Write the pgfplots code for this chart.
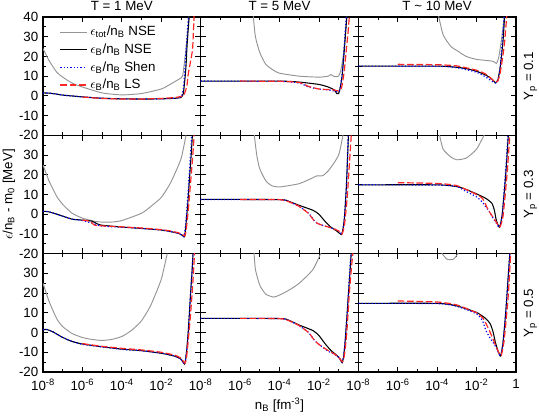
\documentclass[border=0pt]{standalone}
\usepackage{fontspec}
\setmainfont{Liberation Sans}
\usepackage{pgfplots}
\pgfplotsset{compat=1.18}

\pgfplotsset{
  panel/.style={
    scale only axis, width=118.25pt, height=88.75pt, anchor=north west,
    xmin=1e-8, xmax=1, ymin=-20, ymax=40,
    xtick={1e-8,1e-6,1e-4,1e-2,1}, minor xtick={1e-7,1e-5,1e-3,1e-1},
    ytick={-20,-10,0,10,20,30,40}, minor ytick={-15,-5,5,15,25,35},
    tick align=inside, major tick length=4pt, minor tick length=2.5pt,
    tick style={black, line width=0.6pt}, axis line style={line width=0.8pt},
    tick label style={font=\fontsize{10}{12}\selectfont},
    xticklabel style={yshift=-2pt},
    /pgf/number format/assume math mode=true,
    xticklabels={}, yticklabels={},
  },
  ylab/.style={yticklabels={-20,-10,0,10,20,30}},
  ylabtop/.style={yticklabels={-20,-10,0,10,20,30,40}},
  xlab/.style={xticklabels={10\textsuperscript{-8},10\textsuperscript{-6},10\textsuperscript{-4},10\textsuperscript{-2}}},
  xlablast/.style={xticklabels={10\textsuperscript{-8},10\textsuperscript{-6},10\textsuperscript{-4},10\textsuperscript{-2},1}},
  gr/.style={color=black!42, line width=0.7pt, smooth, tension=0.35},
  bk/.style={black, line width=0.8pt, smooth, tension=0.35},
  sh/.style={blue, line width=0.9pt, dash pattern=on 0.9pt off 1.6pt, smooth, tension=0.35},
  ls/.style={red!85, line width=0.9pt, dash pattern=on 5pt off 2pt, smooth, tension=0.35},
}

\begin{document}
\begin{tikzpicture}
\useasboundingbox (-32.25pt,12.75pt) rectangle (372pt,-300pt);

% T = 1 MeV
\begin{semilogxaxis}[panel, ylabtop, at={(0pt,0pt)},
  legend style={at={(0.08,0.97)}, anchor=north west, draw=none, fill=none,
    font=\fontsize{10}{12}\selectfont, row sep=0.5pt},
  legend cell align=left,
  legend image code/.code={\draw[#1] (0cm,0cm) -- (0.7cm,0cm);}]
\addplot[gr] coordinates {(1e-8,24)(2e-8,18)(5e-8,12)(1e-7,9.5)(3e-7,6.5)(1e-6,4.5)(1e-5,1.5)(1e-4,0.5)(1e-3,1.2)(1e-2,3.5)(3e-2,6)(0.08,8.5)(0.12,10)(0.15,17)(0.18,24)(0.22,33)(0.27,42)};
\addplot[bk] coordinates {(1e-8,1.5)(2e-8,1.4)(5e-8,0.9)(1e-7,0.4)(1e-6,-0.5)(1e-5,-1.2)(1e-4,-1.5)(1e-3,-1.6)(1e-2,-1.5)(5e-2,-1.2)(0.1,-0.8)(0.13,1)(0.15,6)(0.18,15)(0.2,24)(0.23,33)(0.27,42)};
\addplot[sh] coordinates {(1e-8,1.5)(2e-8,1.4)(5e-8,0.9)(1e-7,0.4)(1e-6,-0.5)(1e-5,-1.2)(1e-4,-1.5)(1e-3,-1.6)(1e-2,-1.5)(5e-2,-1.1)(0.1,-0.6)(0.13,3)(0.15,10)(0.18,22)(0.22,35)(0.25,42)};
\addplot[ls] coordinates {(1e-6,-0.6)(1e-5,-1.3)(1e-4,-1.6)(1e-3,-1.6)(1e-2,-1.3)(5e-2,-0.8)(0.1,-0.3)(0.14,0.3)(0.2,5)(0.23,10.5)(0.3,17)(0.39,24)(0.47,42)};
\legend{$\epsilon$\textsubscript{tot}/n\textsubscript{B} NSE, $\epsilon$\textsubscript{B}/n\textsubscript{B} NSE, $\epsilon$\textsubscript{B}/n\textsubscript{B} Shen, $\epsilon$\textsubscript{B}/n\textsubscript{B} LS}
\end{semilogxaxis}

\begin{semilogxaxis}[panel, ylab, at={(0pt,-88.75pt)}]
\addplot[gr] coordinates {(1e-8,25)(2e-8,17)(5e-8,9)(1e-7,5)(3e-7,0.5)(1e-6,-2)(2e-6,-2.8)(4e-6,-3.6)(1e-5,-4)(3e-5,-4)(1e-4,-3.2)(1e-3,0.5)(3e-3,4)(1e-2,8.5)(3e-2,16)(0.1,28)(0.18,40)};
\addplot[bk] coordinates {(1e-8,1.5)(2e-8,1.2)(5e-8,0)(1e-7,-1)(3e-7,-2.5)(1e-6,-3)(3e-6,-3.5)(6e-6,-5)(1e-5,-5.6)(1e-4,-6.5)(1e-3,-7.2)(1e-2,-8)(3e-2,-8.8)(0.08,-9.8)(0.12,-10.8)(0.145,-11.5)(0.16,-10)(0.18,-5)(0.22,5)(0.28,20)(0.34,32)(0.39,42)};
\addplot[sh] coordinates {(1e-8,1.5)(2e-8,1.2)(5e-8,0)(1e-7,-1)(3e-7,-2.5)(1e-6,-3.2)(3e-6,-4.5)(1e-5,-6)(1e-4,-6.6)(1e-3,-7.2)(1e-2,-8)(3e-2,-8.8)(0.08,-9.8)(0.12,-10.8)(0.145,-11.3)(0.17,-6)(0.21,5)(0.27,22)(0.36,42)};
\addplot[ls] coordinates {(1e-6,-3)(2.5e-6,-3.6)(4e-6,-5.5)(1e-5,-5.9)(1e-4,-6.4)(1e-3,-7)(1e-2,-7.8)(3e-2,-8.5)(0.08,-9.5)(0.13,-10.5)(0.16,-11)(0.19,-7)(0.24,3)(0.32,18)(0.4,30)(0.48,42)};
\end{semilogxaxis}

\begin{semilogxaxis}[panel, ylab, xlab, at={(0pt,-177.5pt)}]
\addplot[gr] coordinates {(1e-8,25)(2e-8,16)(5e-8,7)(1e-7,3)(3e-7,-0.5)(1e-6,-2.5)(3e-6,-3.5)(1e-5,-4)(3e-5,-3.5)(1e-4,-2)(3e-4,1)(1e-3,6)(3e-3,14)(1e-2,27)(2e-2,40)};
\addplot[bk] coordinates {(1e-8,1.4)(1.5e-8,1.6)(3e-8,0.5)(1e-7,-2.5)(3e-7,-4.5)(1e-6,-5.8)(1e-5,-7.2)(1e-4,-8.4)(1e-3,-9.2)(1e-2,-10.5)(5e-2,-12)(0.1,-13.5)(0.15,-16)(0.17,-14)(0.2,-8)(0.24,2)(0.3,18)(0.36,30)(0.42,42)};
\addplot[sh] coordinates {(1e-8,1.4)(1.5e-8,1.6)(3e-8,0.5)(1e-7,-2.5)(3e-7,-4.5)(1e-6,-6)(1e-5,-7.3)(1e-4,-8.5)(1e-3,-9.2)(1e-2,-10.4)(5e-2,-12)(0.1,-13.5)(0.15,-16)(0.17,-14)(0.2,-8)(0.24,2)(0.3,18)(0.36,30)(0.42,42)};
\addplot[ls] coordinates {(1e-6,-5.6)(1e-5,-7)(1e-4,-8)(1e-3,-8.8)(1e-2,-10)(5e-2,-11.5)(0.1,-13)(0.16,-15.5)(0.19,-13)(0.23,-5)(0.3,8)(0.4,25)(0.5,42)};
\end{semilogxaxis}

% T = 5 MeV
\begin{semilogxaxis}[panel, at={(118.25pt,0pt)}]
\addplot[gr] coordinates {(4.5e-6,42)(6e-6,30)(1e-5,22)(2e-5,16)(5e-5,13)(1e-4,11.5)(1e-3,10)(1e-2,9.5)(3e-2,10)(4e-2,10.8)(6e-2,9.8)(0.1,10)(0.13,13)(0.17,20)(0.22,32)(0.27,42)};
\addplot[bk] coordinates {(1e-8,7.5)(1e-4,7.5)(1e-3,7)(1e-2,5.8)(3e-2,4.5)(6e-2,3)(8e-2,1.2)(0.1,1.2)(0.12,4)(0.15,10)(0.19,22)(0.23,33)(0.27,42)};
\addplot[sh] coordinates {(1e-8,7.5)(1e-4,7.4)(1e-3,6.5)(3e-3,4.5)(1e-2,3.5)(3e-2,3)(6e-2,2.5)(0.1,2)(0.12,4)(0.15,11)(0.19,24)(0.25,42)};
\addplot[ls] coordinates {(1e-6,7.5)(1e-4,7.4)(1e-3,6.8)(3e-3,4.8)(1e-2,3.5)(3e-2,3.2)(6e-2,3)(0.1,2.5)(0.14,4)(0.19,12)(0.25,24)(0.3,32)(0.36,42)};
\end{semilogxaxis}

\begin{semilogxaxis}[panel, at={(118.25pt,-88.75pt)}]
\addplot[gr] coordinates {(5e-6,42)(7e-6,30)(1e-5,23)(2e-5,17)(4e-5,14.5)(1e-4,13.8)(1e-3,15.5)(5e-3,18.5)(8e-3,19.5)(1.5e-2,19.5)(3e-2,22)(0.1,30)(0.18,42)};
\addplot[bk] coordinates {(1e-8,7.5)(1e-4,7.4)(3e-4,6.5)(1e-3,4.5)(5e-3,2)(1e-2,0)(2e-2,-3.5)(4e-2,-6.5)(8e-2,-8.5)(0.14,-10.3)(0.17,-7)(0.2,-1)(0.25,15)(0.32,42)};
\addplot[sh] coordinates {(1e-8,7.5)(1e-4,7.4)(3e-4,6.3)(1e-3,4)(3e-3,0.5)(6e-3,-3.5)(1e-2,-5)(3e-2,-6.5)(6e-2,-7.5)(0.1,-8.5)(0.14,-10.3)(0.17,-7)(0.2,-1)(0.25,15)(0.31,42)};
\addplot[ls] coordinates {(1e-6,7.5)(1e-4,7.4)(3e-4,6.3)(1e-3,4)(3e-3,0.3)(6e-3,-3.5)(1e-2,-5)(3e-2,-6.5)(6e-2,-7.5)(0.1,-8.5)(0.15,-10)(0.2,-5)(0.27,8)(0.35,25)(0.45,42)};
\end{semilogxaxis}

\begin{semilogxaxis}[panel, xlab, at={(118.25pt,-177.5pt)}]
\addplot[gr] coordinates {(5e-6,42)(6e-6,32)(1e-5,24)(2e-5,19.5)(5e-5,18)(1e-4,19)(3e-4,21.5)(1e-3,25)(5e-3,32)(1.5e-2,42)};
\addplot[bk] coordinates {(1e-8,7.2)(1e-4,7.1)(3e-4,6.2)(1e-3,3.8)(5e-3,1)(1e-2,-1.5)(2e-2,-5.5)(4e-2,-9)(8e-2,-11.5)(0.12,-13.5)(0.15,-15.3)(0.18,-12)(0.22,-3)(0.28,12)(0.36,28)(0.45,42)};
\addplot[sh] coordinates {(1e-8,7.2)(1e-4,7.1)(3e-4,6)(1e-3,3.5)(3e-3,0)(6e-3,-4)(1e-2,-6)(3e-2,-9.5)(6e-2,-11)(0.1,-12.5)(0.15,-15)(0.18,-12)(0.22,-3)(0.28,12)(0.35,28)(0.43,42)};
\addplot[ls] coordinates {(1e-6,7.2)(1e-4,7.1)(3e-4,6)(1e-3,3.5)(3e-3,0)(6e-3,-4)(1e-2,-6)(3e-2,-9.2)(6e-2,-10.8)(0.1,-12.5)(0.16,-14.8)(0.2,-11)(0.26,0)(0.35,20)(0.45,33)(0.55,42)};
\end{semilogxaxis}

% T ~ 10 MeV
\begin{semilogxaxis}[panel, at={(236.5pt,0pt)}]
\addplot[gr] coordinates {(1.1e-4,42)(2e-4,31)(5e-4,25)(1e-3,23)(3e-3,20)(1e-2,18.5)(3e-2,18)(7e-2,17.5)(0.1,16.5)(0.13,19)(0.18,28)(0.27,42)};
\addplot[bk] coordinates {(1e-8,15.1)(1e-4,15.1)(1e-3,14.5)(3e-3,13.8)(1e-2,12.5)(3e-2,10.5)(6e-2,8.5)(9e-2,6.7)(0.12,8)(0.16,15)(0.22,28)(0.27,42)};
\addplot[sh] coordinates {(1e-8,15.1)(1e-4,15)(1e-3,14.3)(1e-2,12)(3e-2,9.5)(6e-2,7.5)(9e-2,6.5)(0.12,8)(0.16,15)(0.21,30)(0.26,42)};
\addplot[ls] coordinates {(1e-6,16)(1e-4,15.8)(1e-3,15.2)(1e-2,13)(3e-2,11)(6e-2,8.5)(9e-2,7)(0.12,7.5)(0.16,12)(0.25,25)(0.35,42)};
\end{semilogxaxis}

\begin{semilogxaxis}[panel, at={(236.5pt,-88.75pt)}]
\addplot[gr] coordinates {(1.2e-4,42)(2e-4,33)(5e-4,29)(1e-3,27.6)(3e-3,28.5)(1e-2,33)(3e-2,42)};
\addplot[bk] coordinates {(1e-8,14.9)(1e-4,14.9)(1e-3,14)(3e-3,12.5)(1e-2,10.3)(3e-2,8)(6e-2,5.5)(8e-2,2)(0.1,-3)(0.145,-6.6)(0.2,0)(0.3,20)(0.42,42)};
\addplot[sh] coordinates {(1e-8,14.9)(1e-4,14.8)(1e-3,14)(3e-3,11.5)(1e-2,8.8)(2e-2,6)(4e-2,2)(6e-2,-1)(0.1,-4.5)(0.145,-6.6)(0.2,0)(0.3,22)(0.4,42)};
\addplot[ls] coordinates {(1e-6,16)(1e-4,15.6)(1e-3,14.5)(1e-2,10)(2e-2,8)(4e-2,2)(0.1,-4)(0.15,-6.5)(0.22,-1)(0.35,20)(0.5,42)};
\end{semilogxaxis}

\begin{semilogxaxis}[panel, xlablast, at={(236.5pt,-177.5pt)}]
\addplot[gr] coordinates {(1.3e-4,42)(3e-4,37.3)(7e-4,37.3)(1.5e-3,42)};
\addplot[bk] coordinates {(1e-8,14.8)(1e-4,14.8)(1e-3,13.5)(1e-2,10.2)(3e-2,7)(5e-2,4.3)(7e-2,0)(9e-2,-5)(0.12,-9)(0.165,-11.9)(0.22,-5)(0.3,10)(0.4,28)(0.5,42)};
\addplot[sh] coordinates {(1e-8,14.8)(1e-4,14.7)(1e-3,13.3)(1e-2,9.5)(2e-2,6)(3e-2,1)(5e-2,-3)(8e-2,-6)(0.12,-9.5)(0.165,-11.9)(0.22,-5)(0.3,10)(0.4,28)(0.5,42)};
\addplot[ls] coordinates {(1e-6,16)(1e-4,15.5)(1e-3,14)(1e-2,10)(2.2e-2,7)(4e-2,2)(7e-2,-3.5)(0.1,-7.5)(0.15,-11)(0.18,-11.5)(0.25,-4)(0.4,18)(0.55,42)};
\end{semilogxaxis}

\begin{scope}[every node/.style={font=\fontsize{10}{12}\selectfont}]
\node at (59.1pt,8.5pt) {T = 1 MeV};
\node at (177.4pt,8.5pt) {T = 5 MeV};
\node at (295.6pt,8.5pt) {T \textasciitilde{} 10 MeV};
\node[rotate=90] at (365.5pt,-44.4pt) {Y\textsubscript{p} = 0.1};
\node[rotate=90] at (365.5pt,-133.1pt) {Y\textsubscript{p} = 0.3};
\node[rotate=90] at (365.5pt,-221.9pt) {Y\textsubscript{p} = 0.5};
\node[rotate=90] at (-25.5pt,-133.1pt) {$\epsilon$/n\textsubscript{B} - m\textsubscript{0} [MeV]};
\node at (177.4pt,-291pt) {n\textsubscript{B} [fm\textsuperscript{-3}]};
\end{scope}
\end{tikzpicture}
\end{document}
